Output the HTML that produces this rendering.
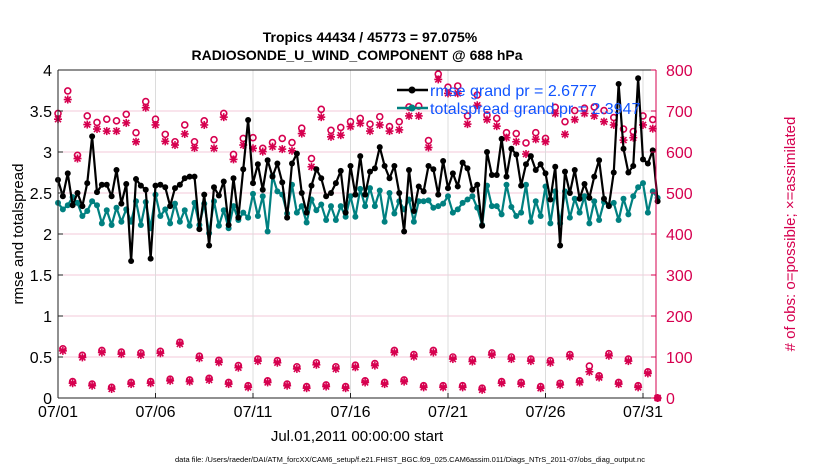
<!DOCTYPE html>
<html><head><meta charset="utf-8">
<style>
body{margin:0;background:#fff;}
svg{display:block;font-family:"Liberation Sans",Arial,sans-serif;}
</style></head>
<body>
<svg id="chart" width="830" height="470" viewBox="0 0 830 470">
<g id="grid"></g>
<g id="obs"></g>
<g id="lines"></g>
<g id="axes"></g>
<text x="370" y="42" text-anchor="middle" font-size="14" font-weight="bold">Tropics 44434 / 45773 = 97.075%</text>
<text x="357" y="60" text-anchor="middle" font-size="14" font-weight="bold">RADIOSONDE_U_WIND_COMPONENT @ 688 hPa</text>
<text transform="translate(23,234) rotate(-90)" text-anchor="middle" font-size="15">rmse and totalspread</text>
<text transform="translate(795,234) rotate(-90)" text-anchor="middle" font-size="15" fill="#d6004f"># of obs: o=possible; ×=assimilated</text>
<text x="357" y="441" text-anchor="middle" font-size="15">Jul.01,2011 00:00:00 start</text>
<text x="410" y="462" text-anchor="middle" font-size="7.5">data file: /Users/raeder/DAI/ATM_forcXX/CAM6_setup/f.e21.FHIST_BGC.f09_025.CAM6assim.011/Diags_NTrS_2011-07/obs_diag_output.nc</text>
<g id="legend">
<line x1="397" y1="90" x2="428" y2="90" stroke="#000" stroke-width="2.5"/>
<circle cx="412" cy="90" r="3.5" fill="#000"/>
<text x="430" y="96" font-size="16" fill="#1155ff">rmse grand pr = 2.6777</text>
<line x1="397" y1="108" x2="428" y2="108" stroke="#008080" stroke-width="2.5"/>
<circle cx="412" cy="108" r="3.5" fill="#008080"/>
<text x="430" y="114" font-size="16" fill="#1155ff">totalspread grand pr = 2.3947</text>
</g>
</svg>
<script>
const rmse=[2.66,2.46,2.74,2.35,2.5,2.34,2.62,3.19,2.51,2.6,2.6,2.46,2.78,2.37,2.61,1.67,2.67,2.59,2.54,1.7,2.59,2.6,2.57,2.34,2.56,2.6,2.68,2.7,2.7,2.06,2.48,1.86,2.57,2.47,2.64,2.11,2.68,2.2,2.79,3.39,2.62,2.85,2.54,2.9,2.7,2.86,2.63,2.2,2.86,2.98,2.5,2.26,2.59,2.79,2.68,2.46,2.5,2.62,2.77,2.26,2.83,2.48,
2.95,2.48,2.76,2.8,3.06,2.83,2.68,2.83,2.5,2.03,2.78,2.28,2.58,2.52,2.83,2.79,2.48,2.89,2.56,2.74,2.58,2.87,2.8,2.54,2.6,2.1,3.0,2.72,2.72,3.16,2.7,3.04,2.97,2.59,2.85,2.95,2.78,2.85,2.74,2.42,2.82,1.86,2.76,2.5,2.78,2.43,2.61,2.44,2.7,2.9,2.43,2.34,2.75,3.83,3.04,2.75,2.83,3.9,2.91,2.86,3.02,2.4];
const spread=[2.38,2.3,2.35,2.45,2.38,2.22,2.28,2.4,2.35,2.13,2.29,2.11,2.32,2.15,2.3,2.15,2.4,2.11,2.39,2.07,2.48,2.22,2.3,2.13,2.37,2.15,2.29,2.1,2.38,2.11,2.37,2.01,2.4,2.1,2.29,2.07,2.34,2.17,2.26,2.2,2.49,2.22,2.46,2.03,2.71,2.52,2.48,2.25,2.6,2.26,2.34,2.14,2.42,2.29,2.36,2.17,2.34,2.17,2.34,2.21,2.46,2.21,
2.55,2.34,2.56,2.34,2.53,2.15,2.5,2.25,2.4,2.3,2.42,2.15,2.4,2.4,2.41,2.32,2.34,2.37,2.46,2.26,2.3,2.38,2.42,2.46,2.32,2.11,2.59,2.34,2.34,2.24,2.6,2.33,2.22,2.26,2.6,2.15,2.4,2.22,2.58,2.13,2.52,2.13,2.52,2.2,2.43,2.26,2.46,2.13,2.4,2.17,2.39,2.35,2.38,2.17,2.43,2.24,2.46,2.57,2.62,2.26,2.52,2.44];
// obs counts at 00Z/12Z (even indices) and 06Z/18Z (odd indices)
const assimMain=[680,728,584,667,656,651,651,671,625,708,666,626,617,644,610,666,609,685,582,617,609,601,613,607,603,645,564,685,637,641,662,670,651,666,651,654,688,688,611,777,743,743,668,714,679,663,635,625,595,631,625,694,643,679,694,688,674,666,629,635,666,657];
const possMain=[694,749,592,688,672,680,676,692,647,723,680,643,625,666,625,676,630,694,594,633,635,609,623,633,623,658,584,704,653,660,674,682,668,686,662,674,710,712,628,790,758,761,688,739,690,682,647,645,622,647,633,709,674,701,707,710,701,684,656,650,688,679];
const assimOff=[115,36,99,30,111,22,107,34,105,36,109,42,132,40,97,44,87,34,74,26,90,38,86,30,71,24,81,28,71,24,75,38,79,34,111,40,101,26,111,26,95,26,89,20,105,36,95,34,90,24,86,32,101,38,64,50,103,34,90,26,60,0];
const possOff=[120,40,104,34,116,26,112,38,110,40,114,46,136,44,102,48,92,38,79,30,95,42,91,34,76,28,86,32,76,28,80,42,84,38,116,44,106,30,116,30,100,30,94,24,110,40,100,38,95,28,91,36,106,42,78,54,108,38,95,30,64,0];
const xTickLabels=["07/01","07/06","07/11","07/16","07/21","07/26","07/31"];
const xTickIdx=[0,20,40,60,80,100,120];
const yTicksL=[0,0.5,1,1.5,2,2.5,3,3.5,4];
const yTicksR=[0,100,200,300,400,500,600,700,800];

const NS="http://www.w3.org/2000/svg";
const X0=58,X1=656,Y0=398,Y1=70,STEP=4.875;
const xs=i=>X0+i*STEP;
const yL=v=>Y0-(v/4)*(Y0-Y1);
const yR=v=>Y0-(v/800)*(Y0-Y1);
function mk(tag,attrs,parent){const e=document.createElementNS(NS,tag);for(const k in attrs)e.setAttribute(k,attrs[k]);parent.appendChild(e);return e;}
const grid=document.getElementById('grid'),axes=document.getElementById('axes'),obs=document.getElementById('obs'),lines=document.getElementById('lines');
const PINK="#d6004f";
yTicksR.forEach(v=>{if(v>0&&v<800){const l=mk('line',{x1:X0,x2:X1,y1:yR(v),y2:yR(v),stroke:"#f3c9d8","stroke-width":1},grid);

}});
xTickIdx.forEach(i=>{if(i>0){const l=mk('line',{x1:xs(i),x2:xs(i),y1:Y1,y2:Y0,stroke:"#dcdcdc","stroke-width":1},grid);

}});
// axes
mk('line',{x1:X0,x2:X0,y1:Y1,y2:Y0,stroke:"#222","stroke-width":1},axes);
mk('line',{x1:X0,x2:X1,y1:Y0,y2:Y0,stroke:"#222","stroke-width":1},axes);
mk('line',{x1:X0,x2:X1,y1:Y1,y2:Y1,stroke:"#222","stroke-width":1},axes);
mk('line',{x1:X1,x2:X1,y1:Y1,y2:Y0,stroke:PINK,"stroke-width":1},axes);
yTicksL.forEach(v=>{mk('line',{x1:X0,x2:X0+5,y1:yL(v),y2:yL(v),stroke:"#222"},axes);
const t=mk('text',{x:X0-6,y:yL(v)+6,"text-anchor":"end","font-size":16},axes);t.textContent=v;

});
yTicksR.forEach(v=>{mk('line',{x1:X1-5,x2:X1,y1:yR(v),y2:yR(v),stroke:PINK},axes);
const t=mk('text',{x:X1+10,y:yR(v)+6,"font-size":16,fill:PINK},axes);t.textContent=v;

});
xTickIdx.forEach((i,k)=>{mk('line',{x1:xs(i),x2:xs(i),y1:Y0,y2:Y0-5,stroke:"#222"},axes);
const t=mk('text',{x:xs(i),y:Y0+19,"text-anchor":"middle","font-size":16},axes);t.textContent=xTickLabels[k];

});
// obs markers
function star(x,y){const g=mk('g',{stroke:PINK,"stroke-width":1.6},obs);const r=4;
mk('line',{x1:x-r,x2:x+r,y1:y,y2:y},g);mk('line',{x1:x,x2:x,y1:y-r,y2:y+r},g);
mk('line',{x1:x-3,x2:x+3,y1:y-3,y2:y+3},g);mk('line',{x1:x-3,x2:x+3,y1:y+3,y2:y-3},g);

}
function ring(x,y){const c=mk('circle',{cx:x,cy:y,r:3,fill:"none",stroke:PINK,"stroke-width":1.6},obs);

}
possMain.forEach((v,k)=>ring(xs(2*k),yR(v)));
assimMain.forEach((v,k)=>star(xs(2*k),yR(v)));
possOff.forEach((v,k)=>ring(xs(2*k+1),yR(v)));
assimOff.forEach((v,k)=>star(xs(2*k+1),yR(v)));
// lines
function series(arr,color,name){const p=mk('polyline',{points:arr.map((v,i)=>xs(i)+","+yL(v)).join(" "),fill:"none",stroke:color,"stroke-width":2.2,"stroke-linejoin":"round"},lines);


arr.forEach((v,i)=>{const c=mk('circle',{cx:xs(i),cy:yL(v),r:3,fill:color},lines);

});}
series(spread,"#008080","totalspread");
series(rmse,"#000","rmse");
</script>
</body></html>
